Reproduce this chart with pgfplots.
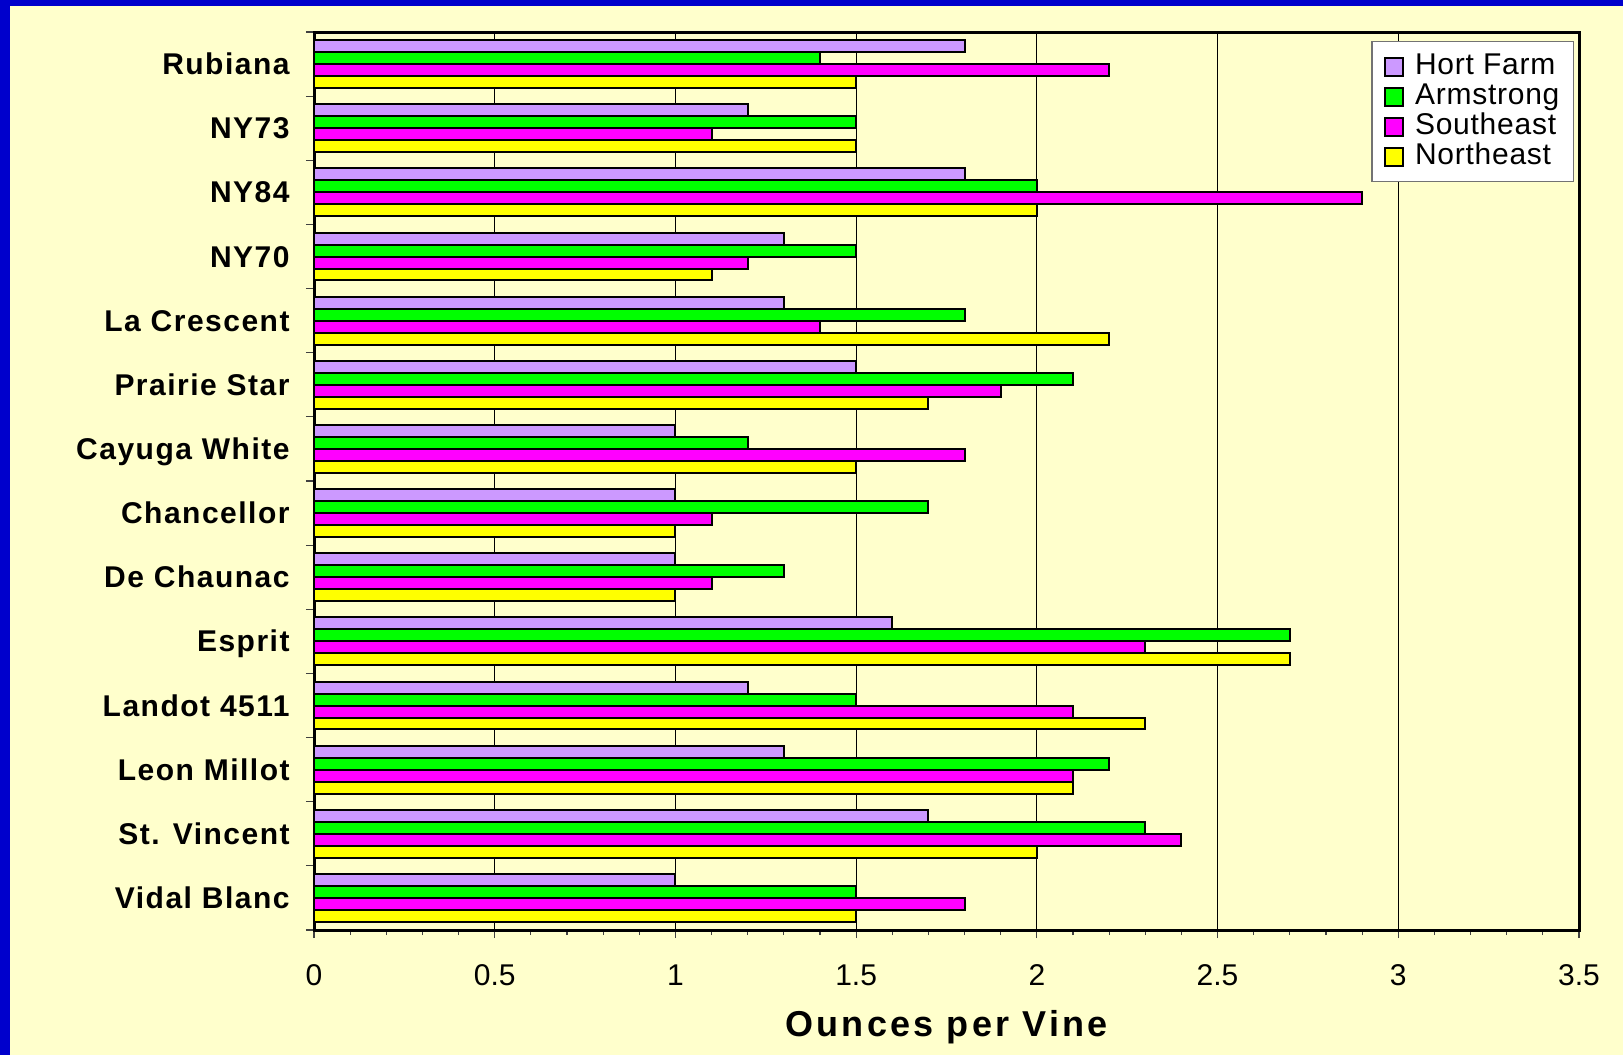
\documentclass[border=0pt]{standalone}
\usepackage{fontspec}
\setmainfont{Liberation Sans}
\newfontfamily\catfont[LetterSpace=5]{Liberation Sans}
\newfontfamily\labfont[LetterSpace=9]{Liberation Sans}
\newfontfamily\legfont[LetterSpace=2.5]{Liberation Sans}
\usepackage{pgfplots}
\usepackage{pgfplotstable}
\pgfplotsset{compat=1.18}
\definecolor{bgyellow}{HTML}{FFFFCC}
\definecolor{bgblue}{HTML}{0000CC}
\definecolor{hort}{HTML}{CC99FF}
\definecolor{arm}{HTML}{00FF00}
\definecolor{se}{HTML}{FF00FF}
\definecolor{ne}{HTML}{FFFF00}
\pgfplotstableread{
idx hort arm se ne
0  1.8 1.4 2.2 1.5
1  1.2 1.5 1.1 1.5
2  1.8 2.0 2.9 2.0
3  1.3 1.5 1.2 1.1
4  1.3 1.8 1.4 2.2
5  1.5 2.1 1.9 1.7
6  1.0 1.2 1.8 1.5
7  1.0 1.7 1.1 1.0
8  1.0 1.3 1.1 1.0
9  1.6 2.7 2.3 2.7
10 1.2 1.5 2.1 2.3
11 1.3 2.2 2.1 2.1
12 1.7 2.3 2.4 2.0
13 1.0 1.5 1.8 1.5
}\grapes
\begin{document}
\begin{tikzpicture}
\fill[bgyellow] (0,0) rectangle (811.5pt,527.5pt);
\fill[bgblue] (0,0) rectangle (5pt,527.5pt);
\fill[bgblue] (0,524.5pt) rectangle (811.5pt,527.5pt);
\begin{axis}[
  at={(157pt,62.5pt)}, anchor=south west,
  scale only axis, width=632.5pt, height=449pt,
  xmin=0, xmax=3.5, ymin=-0.5, ymax=13.5,
  y dir=reverse,
  xbar,
  axis line style={line width=1.5pt, black},
  tick align=outside,
  xtick pos=left, ytick pos=left,
  xtick={0,0.5,...,3.5},
  minor x tick num=4,
  major tick length=4pt, minor tick length=2.5pt,
  tick style={black!75, line width=0.6pt},
  xmajorgrids,
  major grid style={black, line width=0.5pt},
  /pgf/number format/assume math mode=true,
  xticklabel style={font=\fontsize{15}{15}\selectfont, anchor=base, inner sep=0pt, yshift=-23.5pt},
  ytick={-0.5,0.5,...,13.5},
  yticklabels={},
  extra y ticks={0,1,...,13},
  extra y tick labels={Rubiana,NY73,NY84,NY70,La Crescent,Prairie Star,Cayuga White,Chancellor,De Chaunac,Esprit,Landot 4511,Leon Millot,St. Vincent,Vidal Blanc},
  extra y tick style={tick style={draw=none},
    yticklabel style={font=\catfont\bfseries\fontsize{15}{15}\selectfont, anchor=base east, inner sep=0pt, xshift=-8pt, yshift=-5.3pt}},
  xlabel={Ounces per Vine},
  xlabel style={font=\labfont\bfseries\fontsize{18}{18}\selectfont, at={(axis description cs:0.5,0)}, anchor=base, inner sep=0pt, yshift=-53pt},
  bar width=0.187,
  legend cell align=left,
  legend style={at={(1,1)}, anchor=north east, xshift=-2.5pt, yshift=-4.5pt,
    draw=black!55, fill=white, line width=0.6pt,
    font=\legfont\fontsize{15}{15}\selectfont,
    row sep=0pt, inner xsep=6pt, inner ysep=5pt,
    /tikz/every odd column/.append style={column sep=4.5pt},
    nodes={inner sep=1pt, text height=10.5pt, text depth=2.5pt}},
  legend image code/.code={\draw[#1, line width=1pt] (0pt,-4.5pt) rectangle (9pt,4.5pt);},
]
\addplot[xbar, fill=hort, draw=black, line width=1pt, bar shift=-0.2805] table[x=hort, y=idx] {\grapes};
\addplot[xbar, fill=arm, draw=black, line width=1pt, bar shift=-0.0935] table[x=arm, y=idx] {\grapes};
\addplot[xbar, fill=se, draw=black, line width=1pt, bar shift=0.0935] table[x=se, y=idx] {\grapes};
\addplot[xbar, fill=ne, draw=black, line width=1pt, bar shift=0.2805] table[x=ne, y=idx] {\grapes};
\legend{Hort Farm, Armstrong, Southeast, Northeast}
\end{axis}
\end{tikzpicture}
\end{document}
